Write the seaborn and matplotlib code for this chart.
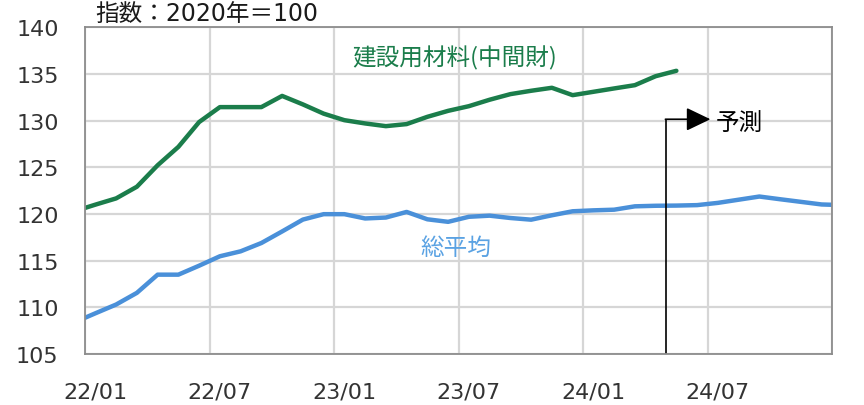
import matplotlib
matplotlib.use("Agg")
import matplotlib.pyplot as plt
import seaborn as sns
import pandas as pd

# ---- data (index, 2020 = 100) ----
# months shown partially at the plot edges are included so the lines run to the frame
total_months = ['21/12',
                '22/01', '22/02', '22/03', '22/04', '22/05', '22/06',
                '22/07', '22/08', '22/09', '22/10', '22/11', '22/12',
                '23/01', '23/02', '23/03', '23/04', '23/05', '23/06',
                '23/07', '23/08', '23/09', '23/10', '23/11', '23/12',
                '24/01', '24/02', '24/03', '24/04', '24/05', '24/06',
                '24/07', '24/08', '24/09', '24/10', '24/11', '24/12',
                '25/01']
total_avg = [108.4,
             109.36, 110.30, 111.55, 113.50, 113.50, 114.46,
             115.47, 116.00, 116.89, 118.13, 119.40, 119.98,
             119.98, 119.52, 119.62, 120.22, 119.43, 119.16,
             119.70, 119.82, 119.57, 119.39, 119.86, 120.29,
             120.39, 120.46, 120.82, 120.88, 120.90, 120.95,
             121.19, 121.53, 121.87, 121.58, 121.30, 121.02,
             120.95]

constr_months = total_months[:30]   # 21/12 .. 24/05
constr_mat = [120.3,
              121.00, 121.67, 122.92, 125.22, 127.19, 129.85,
              131.45, 131.45, 131.45, 132.65, 131.74, 130.75,
              130.05, 129.70, 129.41, 129.63, 130.41, 131.05,
              131.55, 132.24, 132.84, 133.20, 133.52, 132.73,
              133.09, 133.45, 133.80, 134.76, 135.34]

tick_labels = ['22/01', '22/07', '23/01', '23/07', '24/01', '24/07']
series_names = ['建設用材料(中間財)', '総平均']
forecast_start = '24/05'
forecast_label = '予測'
title = '指数：2020年＝100'

GREEN = '#1b7d4b'
BLUE = '#4a90d9'


def pos(m):
    yy, mm = m.split('/')
    return (int(yy) - 22) * 12 + (int(mm) - 1) + 0.5


df = pd.concat([
    pd.DataFrame({'x': [pos(m) for m in constr_months], 'y': constr_mat,
                  's': series_names[0]}),
    pd.DataFrame({'x': [pos(m) for m in total_months], 'y': total_avg,
                  's': series_names[1]}),
], ignore_index=True)

sns.set_style('white')
plt.rcParams['font.family'] = ['DejaVu Sans', 'Noto Sans CJK JP']
CJK = ['Noto Sans CJK JP', 'DejaVu Sans']

fig = plt.figure(figsize=(8.64, 4.06), dpi=100)
ax = fig.add_axes([85 / 864, 1 - 355 / 406, (832 - 85) / 864, (355 - 28.3) / 406])

sns.lineplot(data=df, x='x', y='y', hue='s', palette=[GREEN, BLUE],
             estimator=None, sort=False, linewidth=3.2, legend=False, ax=ax)

ax.set_xlim(0, 36)
ax.set_ylim(105, 140)
ax.set_yticks(range(105, 141, 5))
ax.set_xticks(range(0, 37, 6))
ax.set_xticklabels([])
ax.set_xticks([pos(t) for t in tick_labels], minor=True)
ax.set_xticklabels(tick_labels, minor=True)
ax.tick_params(axis='x', which='both', length=0, pad=20, labelsize=16, colors='#333333')
ax.tick_params(axis='y', length=0, pad=19, labelsize=16, colors='#333333')
ax.grid(True, which='major', color='#d6d6d6', linewidth=1.6)
ax.set_axisbelow(True)
ax.set_xlabel('')
ax.set_ylabel('')
for sp in ax.spines.values():
    sp.set_visible(True)
    sp.set_color('#8c8c8c')
    sp.set_linewidth(1.3)

# series labels
ax.text(17.8, 136.8, series_names[0], color=GREEN, fontsize=17, family=CJK,
        ha='center', va='center')
ax.text(17.85, 116.4, series_names[1], color='#5aa2e3', fontsize=17, family=CJK,
        ha='center', va='center')

# forecast marker
fx = pos(forecast_start) - 0.5
ax.plot([fx, fx], [105, 130.15], color='black', linewidth=1.2, solid_capstyle='butt')
ax.annotate('', xy=(fx + 2.14, 130.15), xytext=(fx - 0.03, 130.15),
            arrowprops=dict(arrowstyle='-|>,head_length=1.0,head_width=0.48',
                            mutation_scale=15, color='black', lw=1.2,
                            shrinkA=0, shrinkB=0))
ax.text(fx + 2.42, 129.7, forecast_label, color='black', fontsize=17, family=CJK,
        ha='left', va='center')

fig.text(95 / 864, 1 - 14 / 406, title, fontsize=17, color='#1a1a1a',
         ha='left', va='center')

fig.savefig('out.png', dpi=100)
